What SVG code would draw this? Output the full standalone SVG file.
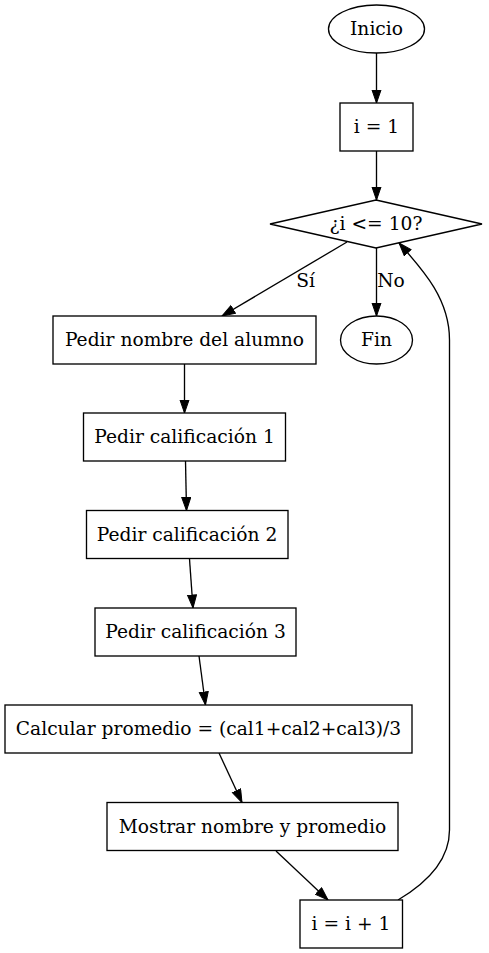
<svg xmlns="http://www.w3.org/2000/svg" width="489" height="953" viewBox="0 0 489 953">
<defs>
<marker id="arr" markerUnits="userSpaceOnUse" markerWidth="15" markerHeight="11" refX="13.5" refY="5" orient="auto">
<path d="M0.5,0.5 L13.5,5 L0.5,9.5 Z" fill="#000" stroke="#000" stroke-width="1"/>
</marker>
<style>
.n{fill:#fff;stroke:#000;stroke-width:1.33}
.t{font-family:"DejaVu Serif",serif;font-size:18.67px;text-anchor:middle;fill:#000}
.e{fill:none;stroke:#000;stroke-width:1.33;marker-end:url(#arr)}
</style>
</defs>
<rect width="489" height="953" fill="#fff"/>
<g id="connectors">
<path class="e" d="M376.5,53 L376.5,103"/>
<path class="e" d="M376.5,151 L376.5,200"/>
<path class="e" d="M347,242 L222,316"/>
<path class="e" d="M376.5,248 L376.5,316"/>
<path class="e" d="M184.5,364 L184.5,413"/>
<path class="e" d="M185.5,461 L186.5,510.5"/>
<path class="e" d="M189.5,559 L193,608"/>
<path class="e" d="M199,656 L205.5,705"/>
<path class="e" d="M219,753 L242,802.5"/>
<path class="e" d="M276,851 L328,900"/>
<path class="e" d="M398,900 C425,884 449.5,862 449.5,830 L449.5,340 C449.5,300 425,272 399,243"/>
<text class="t" x="305.5" y="287">Sí</text>
<text class="t" x="391" y="287">No</text>
</g>
<g id="inicio"><ellipse class="n" cx="376.5" cy="29" rx="48" ry="24"/><text class="t" x="376.5" y="35">Inicio</text></g>
<g id="i1"><rect class="n" x="340" y="103" width="73" height="48"/><text class="t" x="376.5" y="133">i = 1</text></g>
<g id="cond"><polygon class="n" points="376,200 482,224 376,248 270,224"/><text class="t" x="376" y="230">¿i &lt;= 10?</text></g>
<g id="fin"><ellipse class="n" cx="376.5" cy="340" rx="36" ry="24"/><text class="t" x="376.5" y="346">Fin</text></g>
<g id="nombre"><rect class="n" x="53" y="316" width="263" height="48"/><text class="t" x="184.5" y="346">Pedir nombre del alumno</text></g>
<g id="cal1"><rect class="n" x="83.5" y="413" width="202" height="48"/><text class="t" x="184.5" y="443">Pedir calificación 1</text></g>
<g id="cal2"><rect class="n" x="86.5" y="510.5" width="201.5" height="48"/><text class="t" x="187" y="541">Pedir calificación 2</text></g>
<g id="cal3"><rect class="n" x="95" y="608" width="201" height="48"/><text class="t" x="195.5" y="638">Pedir calificación 3</text></g>
<g id="calc"><rect class="n" x="5" y="705" width="407" height="48"/><text class="t" x="208.5" y="735">Calcular promedio = (cal1+cal2+cal3)/3</text></g>
<g id="mostrar"><rect class="n" x="107" y="802.5" width="291" height="48"/><text class="t" x="252.5" y="833">Mostrar nombre y promedio</text></g>
<g id="inc"><rect class="n" x="300" y="900" width="102.5" height="48"/><text class="t" x="351" y="930">i = i + 1</text></g>
</svg>
